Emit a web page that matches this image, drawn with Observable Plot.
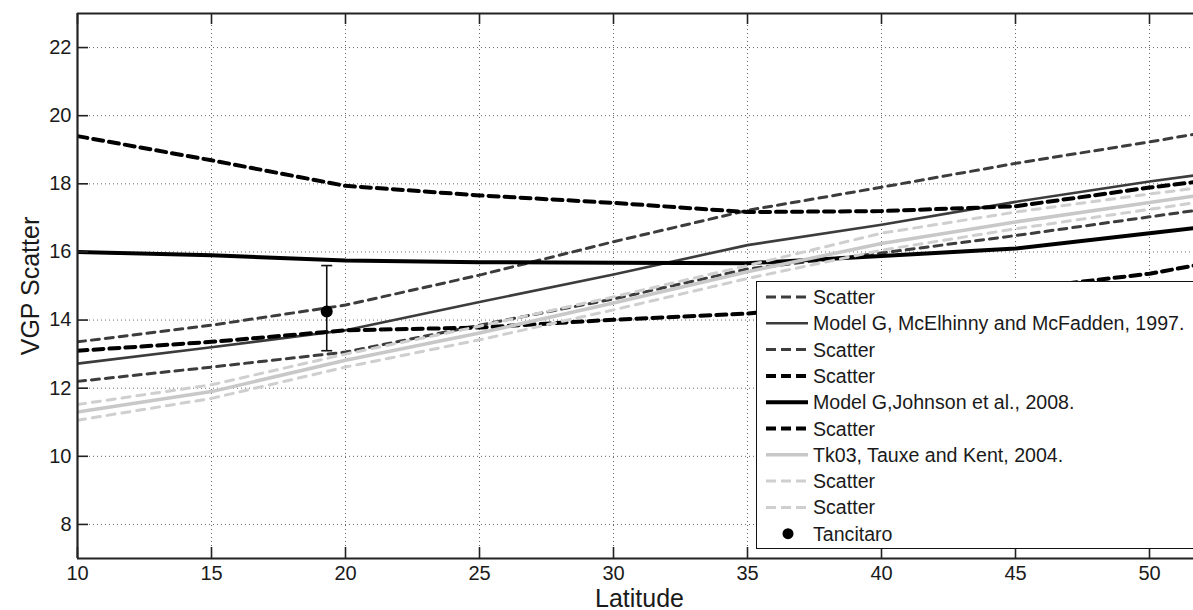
<!DOCTYPE html>
<html><head><meta charset="utf-8">
<script src="https://cdn.jsdelivr.net/npm/d3@7"></script>
<script src="https://cdn.jsdelivr.net/npm/@observablehq/plot@0.6"></script>
<style>
html,body{margin:0;padding:0;background:#fff;overflow:hidden;}
#wrap{position:relative;width:1193px;height:610px;overflow:hidden;font-family:"Liberation Sans",Arial,sans-serif;}
#legend{position:absolute;left:756px;top:281px;width:470px;height:268px;background:#fff;border:1.6px solid #111;box-sizing:border-box;}
</style></head><body><div id="wrap"><div id="chart"></div><div id="legend"></div></div>
<script>
// ---- data ----
const latitude   = [10, 15, 20, 25, 30, 35, 40, 45, 50, 52];
const mcUpper    = [13.36, 13.85, 14.44, 15.32, 16.30, 17.22, 17.90, 18.60, 19.23, 19.50];
const mcModel    = [12.72, 13.20, 13.70, 14.53, 15.34, 16.20, 16.80, 17.47, 18.07, 18.28];
const mcLower    = [12.20, 12.62, 13.06, 13.85, 14.62, 15.50, 15.97, 16.48, 17.03, 17.25];
const joUpper    = [19.40, 18.69, 17.94, 17.66, 17.44, 17.17, 17.20, 17.34, 17.89, 18.08];
const joModel    = [16.00, 15.90, 15.75, 15.70, 15.68, 15.67, 15.88, 16.10, 16.55, 16.73];
const joLower    = [13.10, 13.36, 13.70, 13.78, 14.01, 14.19, 14.55, 14.90, 15.36, 15.65];
const tkModel    = [11.30, 11.90, 12.82, 13.62, 14.50, 15.42, 16.25, 16.88, 17.45, 17.68];
const tkUpper    = [11.52, 12.10, 13.00, 13.82, 14.68, 15.60, 16.55, 17.17, 17.70, 17.90];
const tkLower    = [11.06, 11.70, 12.62, 13.42, 14.30, 15.22, 16.05, 16.68, 17.25, 17.48];
const tancitaroLat  = [19.3];
const tancitaroVal  = [14.25];
const tancitaroLow  = [13.1];
const tancitaroHigh = [15.6];
const xTicks = [10, 15, 20, 25, 30, 35, 40, 45, 50];
const yTicks = [8, 10, 12, 14, 16, 18, 20, 22];
const legendLabels = ["Scatter", "Model G, McElhinny and McFadden, 1997.", "Scatter", "Scatter",
  "Model G,Johnson et al., 2008.", "Scatter", "Tk03, Tauxe and Kent, 2004.", "Scatter", "Scatter", "Tancitaro"];

// ---- styles ----
const series = [
  {values: mcUpper, stroke: "#3c3c3c", width: 3,   dash: "8,6"},
  {values: mcModel, stroke: "#3c3c3c", width: 2.6, dash: null},
  {values: mcLower, stroke: "#3c3c3c", width: 3,   dash: "8,6"},
  {values: joUpper, stroke: "#000",    width: 4,   dash: "10,6"},
  {values: joModel, stroke: "#000",    width: 4,   dash: null},
  {values: joLower, stroke: "#000",    width: 4,   dash: "10,6"},
  {values: tkModel, stroke: "#c8c8c8", width: 3.5, dash: null},
  {values: tkUpper, stroke: "#cfcfcf", width: 3,   dash: "8,7"},
  {values: tkLower, stroke: "#cfcfcf", width: 3,   dash: "8,7"}
];

const W = 1193, H = 610, mL = 77, mT = 13, mR = 0, mB = 52;
const frameW = W - mL - mR, frameH = H - mT - mB, tickLen = 11;

const tanc = tancitaroLat.map((x, i) => ({x, y: tancitaroVal[i], lo: tancitaroLow[i], hi: tancitaroHigh[i]}));
const capSymbol = {draw(ctx, size) { const r = Math.sqrt(size / Math.PI); ctx.moveTo(-r, 0); ctx.lineTo(r, 0); }};

const lineMarks = series.map(s => Plot.line(latitude.map((x, i) => ({x, y: s.values[i]})), {
  x: "x", y: "y", stroke: s.stroke, strokeWidth: s.width, strokeDasharray: s.dash, clip: true
}));

const chart = Plot.plot({
  width: W, height: H, marginLeft: mL, marginTop: mT, marginRight: mR, marginBottom: mB,
  x: {domain: [10, 10 + frameW / 26.8], label: null},
  y: {domain: [7, 23], label: null},
  style: {fontFamily: '"Liberation Sans", Arial, sans-serif', color: "#1a1a1a", background: "#fff", overflow: "visible"},
  marks: [
    Plot.gridX(xTicks, {stroke: "#666", strokeOpacity: 1, strokeDasharray: "1,3"}),
    Plot.gridY(yTicks, {stroke: "#666", strokeOpacity: 1, strokeDasharray: "1,3"}),
    ...lineMarks,
    Plot.ruleX(tanc, {x: "x", y1: "lo", y2: "hi", stroke: "#111", strokeWidth: 1.6}),
    Plot.dot(tanc, {x: "x", y: "lo", symbol: capSymbol, r: 5.5, stroke: "#111", strokeWidth: 1.6}),
    Plot.dot(tanc, {x: "x", y: "hi", symbol: capSymbol, r: 5.5, stroke: "#111", strokeWidth: 1.6}),
    Plot.dot(tanc, {x: "x", y: "y", r: 6, fill: "#000"}),
    // inward ticks
    Plot.ruleX(xTicks, {insetTop: frameH - tickLen, stroke: "#222", strokeWidth: 1.6}),
    Plot.ruleX(xTicks, {insetBottom: frameH - tickLen, stroke: "#222", strokeWidth: 1.6}),
    Plot.ruleY(yTicks, {insetRight: frameW - tickLen, stroke: "#222", strokeWidth: 1.6}),
    // frame (left, bottom, top)
    Plot.ruleX([10], {stroke: "#222", strokeWidth: 2.2}),
    Plot.ruleY([7, 23], {stroke: "#222", strokeWidth: 2.2}),
    Plot.axisX(xTicks, {anchor: "bottom", tickSize: 0, tickPadding: 7, fontSize: 20, label: null}),
    Plot.axisY(yTicks, {anchor: "left", tickSize: 0, tickPadding: 6, fontSize: 20, label: null}),
    Plot.text(["VGP Scatter"], {frameAnchor: "left", rotate: -90, dx: -47, fontSize: 25, textAnchor: "middle", lineAnchor: "middle"}),
    Plot.text(["Latitude"], {frameAnchor: "bottom", dx: 4, dy: 40, fontSize: 25, textAnchor: "middle", lineAnchor: "middle"})
  ]
});
document.getElementById("chart").appendChild(chart);

// ---- legend (drawn over the axes, like MATLAB's boxed legend) ----
const rowH = 26.3, firstRow = 15, fs = 19.6;
const lg = d3.select("#legend").append("svg").attr("width", 470).attr("height", 266)
  .style("font-family", '"Liberation Sans", Arial, sans-serif');
legendLabels.forEach((label, i) => {
  const cy = firstRow + i * rowH;
  const g = lg.append("g").attr("transform", `translate(0,${cy})`);
  if (i < series.length) {
    const s = series[i];
    g.append("line").attr("x1", 9).attr("x2", 51).attr("y1", 0).attr("y2", 0)
      .attr("stroke", s.stroke).attr("stroke-width", s.width)
      .attr("stroke-dasharray", s.dash ? "10,5" : null);
  } else {
    g.append("circle").attr("cx", 31).attr("cy", 0).attr("r", 5.5).attr("fill", "#000");
  }
  g.append("text").attr("x", 56).attr("y", fs * 0.358).attr("font-size", fs).attr("fill", "#1a1a1a").text(label);
});
</script></body></html>
